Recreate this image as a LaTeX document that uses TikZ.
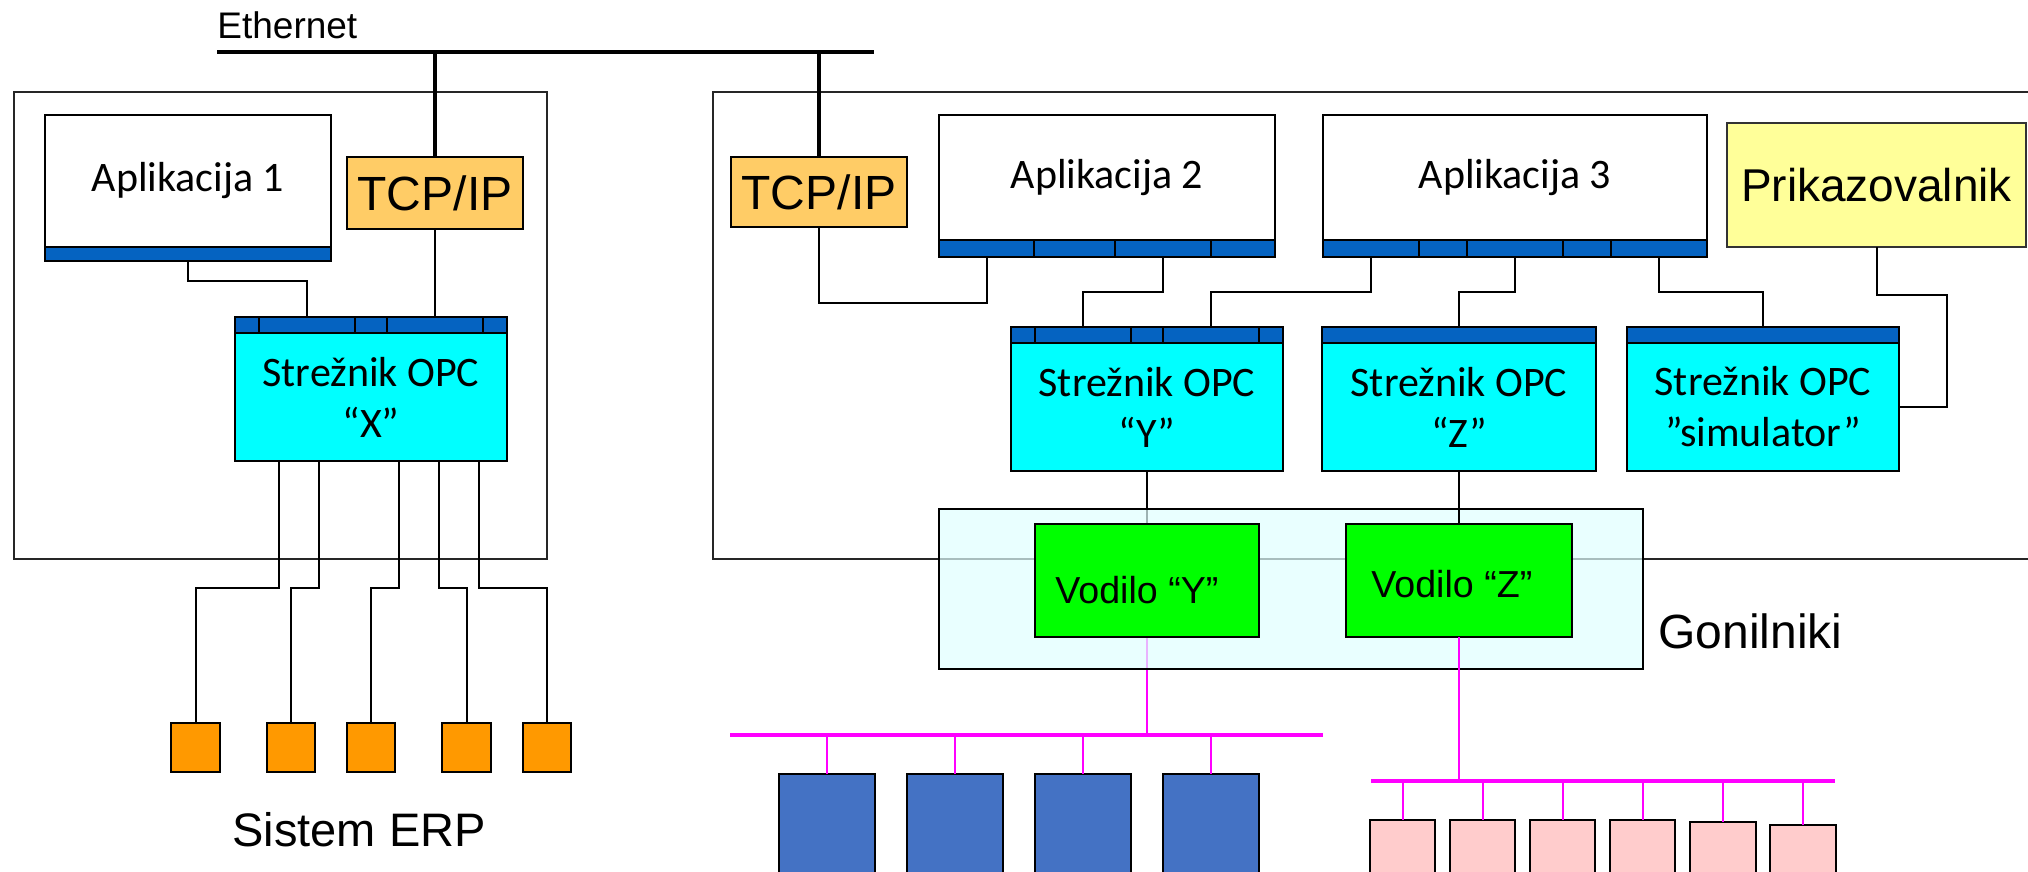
\documentclass[tikz,border=0pt]{standalone}
\usepackage{fontspec}
\setmainfont{Liberation Sans}
\newfontfamily\calibfont{Carlito}
\usetikzlibrary{calc}

\definecolor{tcporange}{HTML}{FFCC66}
\definecolor{barblue}{HTML}{0563C1}
\definecolor{opccyan}{HTML}{00FFFF}
\definecolor{dispyellow}{HTML}{FFFF99}
\definecolor{drvgreen}{HTML}{00FF00}
\definecolor{drvbg}{HTML}{E0FFFF}
\definecolor{erporange}{HTML}{FF9900}
\definecolor{devblue}{HTML}{4472C4}
\definecolor{devpink}{HTML}{FFCCCC}
\definecolor{busmag}{HTML}{FF00FF}

\pgfdeclarelayer{under}
\pgfdeclarelayer{over}
\pgfsetlayers{under,main,over}

% rectangle node given by two corners (in pixel units): style, name, x1, y1, x2, y2, text
\newcommand{\boxnode}[7]{%
  \node[#1, minimum width={(#5-#3)*0.5pt}, minimum height={(#6-#4)*0.5pt}]
    (#2) at ({(#3+#5)/2},{(#4+#6)/2}) {#7};}

\begin{document}
\begin{tikzpicture}[x=0.5pt, y=-0.5pt,
  area/.style={rectangle, inner sep=0pt, outer sep=0pt},
  frame/.style={area, draw=black!85, line width=1pt},
  appbox/.style={area, draw, line width=1.1pt, fill=white, font=\calibfont\fontsize{21}{25}\selectfont},
  barseg/.style={area, draw, line width=1.3pt, fill=barblue},
  tcpbox/.style={area, draw, line width=1.2pt, fill=tcporange, font=\fontsize{24}{28}\selectfont},
  dispbox/.style={area, draw=black!80, line width=1.2pt, fill=dispyellow, font=\fontsize{23}{27}\selectfont},
  opcbox/.style={area, draw, line width=1.1pt, fill=opccyan, align=center, font=\calibfont\fontsize{21}{25.5}\selectfont},
  drvarea/.style={area, draw, line width=1.2pt, fill=drvbg, fill opacity=0.7, draw opacity=1},
  drvbox/.style={area, draw, line width=1.2pt, fill=drvgreen},
  drvtext/.style={inner sep=0pt, font=\fontsize{18.8}{22}\selectfont},
  erpbox/.style={area, draw, line width=1.2pt, fill=erporange},
  blubox/.style={area, draw, line width=1.2pt, fill=devblue},
  pinkbox/.style={area, draw, line width=1.2pt, fill=devpink},
  wire/.style={line width=1pt},
  ether/.style={line width=1.8pt},
  bus/.style={draw=busmag, line width=1.6pt},
  tap/.style={draw=busmag, line width=1pt},
  bigtext/.style={inner sep=0pt, font=\fontsize{24}{28}\selectfont}
]
\clip (0,0) rectangle (2028,872);

% computer frames
\begin{pgfonlayer}{under}
\fill[white] (0,0) rectangle (2028,872);
\boxnode{frame}{hostA}{14}{92}{547}{559}{}
\boxnode{frame}{hostB}{713}{92}{2060}{559}{}
\end{pgfonlayer}

% Ethernet
\node[inner sep=0pt, anchor=base west, font=\fontsize{18.5}{22}\selectfont] (ethlabel) at (217,39) {Ethernet};
\coordinate (ethL) at (217,52);
\coordinate (ethR) at (874,52);
\draw[ether] (ethL) -- (ethR);

% left computer
\boxnode{appbox}{app1}{45}{115}{331}{247}{Aplikacija 1}
\boxnode{barseg}{a1bar}{45}{247}{331}{261}{}
\boxnode{tcpbox}{tcp1}{347}{157}{523}{229}{TCP/IP}
\boxnode{barseg}{xs1}{235}{317}{259}{333}{}
\boxnode{barseg}{xs2}{259}{317}{355}{333}{}
\boxnode{barseg}{xs3}{355}{317}{387}{333}{}
\boxnode{barseg}{xs4}{387}{317}{483}{333}{}
\boxnode{barseg}{xs5}{483}{317}{507}{333}{}
\boxnode{opcbox}{opcx}{235}{333}{507}{461}{Strežnik OPC\\“X”}

% right computer: applications
\boxnode{tcpbox}{tcp2}{731}{157}{907}{227}{TCP/IP}
\boxnode{appbox}{app2}{939}{115}{1275}{240}{Aplikacija 2}
\boxnode{barseg}{a2s1}{939}{240}{1034}{257}{}
\boxnode{barseg}{a2s2}{1034}{240}{1115}{257}{}
\boxnode{barseg}{a2s3}{1115}{240}{1211}{257}{}
\boxnode{barseg}{a2s4}{1211}{240}{1275}{257}{}
\boxnode{appbox}{app3}{1323}{115}{1707}{240}{Aplikacija 3}
\boxnode{barseg}{a3s1}{1323}{240}{1419}{257}{}
\boxnode{barseg}{a3s2}{1419}{240}{1467}{257}{}
\boxnode{barseg}{a3s3}{1467}{240}{1563}{257}{}
\boxnode{barseg}{a3s4}{1563}{240}{1611}{257}{}
\boxnode{barseg}{a3s5}{1611}{240}{1707}{257}{}
\boxnode{dispbox}{prik}{1727}{123}{2026}{247}{Prikazovalnik}

% right computer: OPC servers
\boxnode{barseg}{ys1}{1011}{327}{1035}{343}{}
\boxnode{barseg}{ys2}{1035}{327}{1131}{343}{}
\boxnode{barseg}{ys3}{1131}{327}{1163}{343}{}
\boxnode{barseg}{ys4}{1163}{327}{1259}{343}{}
\boxnode{barseg}{ys5}{1259}{327}{1283}{343}{}
\boxnode{opcbox}{opcy}{1011}{343}{1283}{471}{Strežnik OPC\\“Y”}
\boxnode{barseg}{zs}{1322}{327}{1596}{343}{}
\boxnode{opcbox}{opcz}{1322}{343}{1596}{471}{Strežnik OPC\\“Z”}
\boxnode{barseg}{ss}{1627}{327}{1899}{343}{}
\boxnode{opcbox}{sim}{1627}{343}{1899}{471}{Strežnik OPC\\”simulator”}

% Ethernet drops
\draw[ether] (tcp1.north) -- (tcp1.north |- ethL);
\draw[ether] (tcp2.north) -- (tcp2.north |- ethL);

% links inside the computers
\draw[wire] (a1bar.south) -- ++(0,20) -| (xs2.north);
\draw[wire] (tcp1.south) -- (xs4.north);
\draw[wire] (tcp2.south) -- ++(0,76) -| (a2s1.south);
\draw[wire] (a2s3.south) -- ++(0,35) -| (ys2.north);
\draw[wire] (a3s1.south) -- ++(0,35) -| (ys4.north);
\draw[wire] (a3s3.south) -- ++(0,35) -| (zs.north);
\draw[wire] (a3s5.south) -- ++(0,35) -| (ss.north);
\draw[wire] (prik.south) -- ++(0,48) -- ++(70,0) |- (sim.east);

% ERP system
\boxnode{erpbox}{erp1}{171}{723}{220}{772}{}
\boxnode{erpbox}{erp2}{267}{723}{315}{772}{}
\boxnode{erpbox}{erp3}{347}{723}{395}{772}{}
\boxnode{erpbox}{erp4}{442}{723}{491}{772}{}
\boxnode{erpbox}{erp5}{523}{723}{571}{772}{}
\node[bigtext, anchor=base west, font=\fontsize{23.5}{28}\selectfont] (erplabel) at (232,846) {Sistem ERP};
\coordinate (xo1) at (279,461);
\coordinate (xo2) at (319,461);
\coordinate (xo3) at (399,461);
\coordinate (xo4) at (439,461);
\coordinate (xo5) at (479,461);
\draw[wire] (xo1) -- ++(0,127) -| (erp1.north);
\draw[wire] (xo2) -- ++(0,127) -| (erp2.north);
\draw[wire] (xo3) -- ++(0,127) -| (erp3.north);
\draw[wire] (xo4) -- ++(0,127) -| (erp4.north);
\draw[wire] (xo5) -- ++(0,127) -| (erp5.north);

% drivers
\boxnode{drvarea}{drivers}{939}{509}{1643}{669}{}
\boxnode{drvbox}{vy}{1035}{524}{1259}{637}{}
\boxnode{drvbox}{vz}{1346}{524}{1572}{637}{}
\node[drvtext, anchor=base west] (vytext) at (1055,603) {Vodilo “Y”};
\node[drvtext, anchor=base west] (vztext) at (1371,597) {Vodilo “Z”};
\node[bigtext, anchor=base west] (drvlabel) at (1658,648) {Gonilniki};

% field devices
\boxnode{blubox}{dy1}{779}{774}{875}{900}{}
\boxnode{blubox}{dy2}{907}{774}{1003}{900}{}
\boxnode{blubox}{dy3}{1035}{774}{1131}{900}{}
\boxnode{blubox}{dy4}{1163}{774}{1259}{900}{}
\boxnode{pinkbox}{dz1}{1370}{820}{1435}{900}{}
\boxnode{pinkbox}{dz2}{1450}{820}{1515}{900}{}
\boxnode{pinkbox}{dz3}{1530}{820}{1595}{900}{}
\boxnode{pinkbox}{dz4}{1610}{820}{1675}{900}{}
\boxnode{pinkbox}{dz5}{1690}{822}{1756}{900}{}
\boxnode{pinkbox}{dz6}{1770}{825}{1836}{900}{}

\coordinate (busYl) at (730,735);
\coordinate (busYr) at (1323,735);
\coordinate (busZl) at (1371,781);
\coordinate (busZr) at (1835,781);
\draw[bus] (busYl) -- (busYr);
\draw[bus] (busZl) -- (busZr);
\foreach \d in {dy1,dy2,dy3,dy4}
  \draw[tap] (\d.north) -- (\d.north |- busYl);
\foreach \d in {dz1,dz2,dz3,dz4,dz5,dz6}
  \draw[tap] (\d.north) -- (\d.north |- busZl);

% bus "Y" links seen through the driver area
\begin{pgfonlayer}{under}
\draw[wire] (opcy.south) -- (vy.north);
\draw[tap] (vy.south) -- (vy.south |- busYl);
\end{pgfonlayer}

% bus "Z" links drawn over the driver area
\begin{pgfonlayer}{over}
\draw[wire] (opcz.south) -- (vz.north);
\draw[tap] (vz.south) -- (vz.south |- busZl);
\end{pgfonlayer}
\end{tikzpicture}
\end{document}
